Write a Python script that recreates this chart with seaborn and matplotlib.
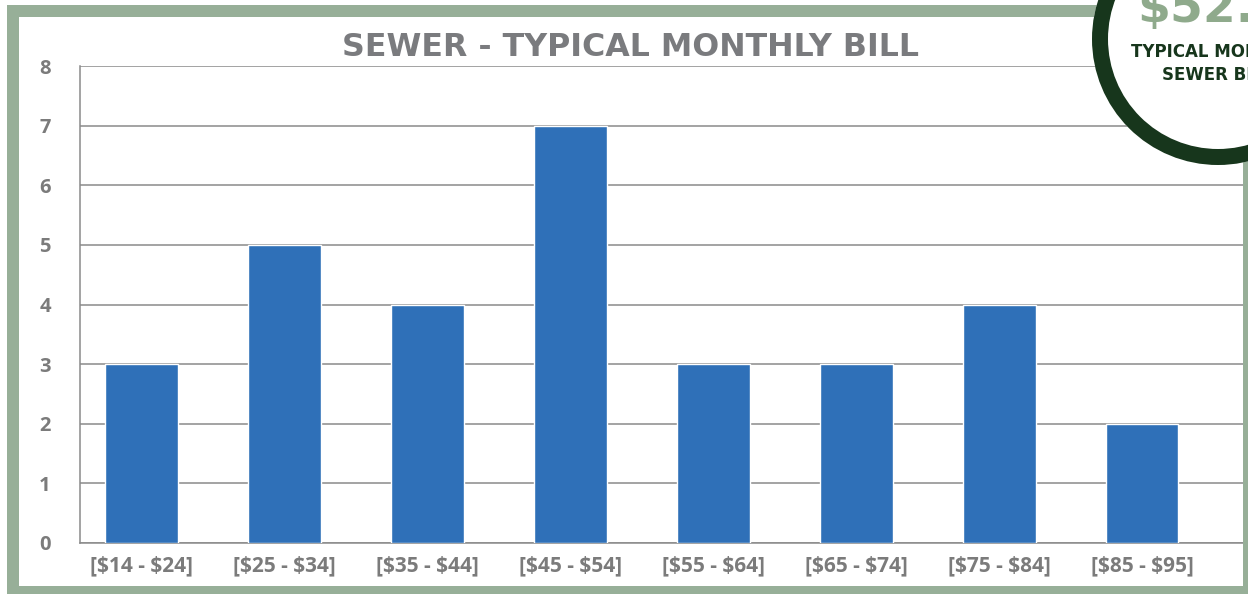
import matplotlib
matplotlib.use("Agg")
import matplotlib.pyplot as plt
import seaborn as sns
import pandas as pd
from matplotlib.patches import Rectangle, Circle

categories = ["[$14 - $24]", "[$25 - $34]", "[$35 - $44]", "[$45 - $54]",
              "[$55 - $64]", "[$65 - $74]", "[$75 - $84]", "[$85 - $95]"]
counts = [3, 5, 4, 7, 3, 3, 4, 2]
y_ticks = [0, 1, 2, 3, 4, 5, 6, 7, 8]
title = "SEWER - TYPICAL MONTHLY BILL"
badge_value = "$52.00"
badge_lines = ["TYPICAL MONTHLY", "SEWER BILL"]

df = pd.DataFrame({"range": categories, "count": counts})

sns.set_theme(style="white")
plt.rcParams['font.family'] = ['Open Sans', 'DejaVu Sans']
plt.rcParams['text.parse_math'] = False

W, H = 1248, 594
fig = plt.figure(figsize=(W / 100, H / 100), dpi=100)
fig.patch.set_facecolor("white")

ax_l, ax_r, ax_t, ax_b = 80, 1243, 66, 543
ax = fig.add_axes([ax_l / W, 1 - ax_b / H, (ax_r - ax_l) / W, (ax_b - ax_t) / H])

sns.barplot(data=df, x="range", y="count", color="#2F70B8", saturation=1,
            width=0.51, ax=ax, zorder=3)

gray = "#8a8a8a"
lab_col = "#7b7b7b"
ax.set_ylim(0, 8)
ax.set_yticks(y_ticks, labels=[str(v) for v in y_ticks], fontweight="bold",
              fontsize=14.5, color=lab_col)
ax.set_xticks(range(len(categories)), labels=categories, fontweight="bold",
              fontsize=15, color=lab_col)
ax.grid(axis="y", color=gray, linewidth=1.1, zorder=0)
ax.set_axisbelow(True)
ax.set_xlim(-0.5 + 10 / 143, 7 + (ax_r - 1142) / 143)
for s in ["top", "right"]:
    ax.spines[s].set_visible(False)
for s in ["left", "bottom"]:
    ax.spines[s].set_color(gray)
    ax.spines[s].set_linewidth(1.1)
ax.set_xlabel("")
ax.set_ylabel("")
ax.tick_params(axis="x", length=0, pad=9)
ax.tick_params(axis="y", length=3, width=1, color=gray, pad=18)

fig.text(631 / W, 1 - 48 / H, title, ha="center", va="center", fontsize=22.8,
         fontweight="bold", color="#7a7b7e", family=["DejaVu Sans"])

# overlay decorations
ov = fig.add_axes([0, 0, 1, 1], zorder=10)
ov.set_xlim(0, W)
ov.set_ylim(H, 0)
ov.axis("off")
ov.patch.set_alpha(0)

frame_col = "#97AF98"
ov.add_patch(Rectangle((13, 10.5), 1249 - 13, 592 - 10.5, fill=False,
                       edgecolor=frame_col, linewidth=12 * 0.72))
ov.add_patch(Circle((1218, 39), 126, facecolor="white", edgecolor="none"))
ov.add_patch(Circle((1218, 39), 118, facecolor="none", edgecolor="#17361C",
                    linewidth=16 * 0.72))
ov.text(1137, 22, badge_value, ha="left", va="baseline", fontsize=34,
        fontweight="bold", color="#8FAA8C", family=["DejaVu Sans"])
ov.text(1218, 52, badge_lines[0], ha="center", va="center", fontsize=12,
        fontweight="bold", color="#17361C", family=["DejaVu Sans"])
ov.text(1218, 75, badge_lines[1], ha="center", va="center", fontsize=12,
        fontweight="bold", color="#17361C", family=["DejaVu Sans"])

fig.savefig("out.png", dpi=100)
